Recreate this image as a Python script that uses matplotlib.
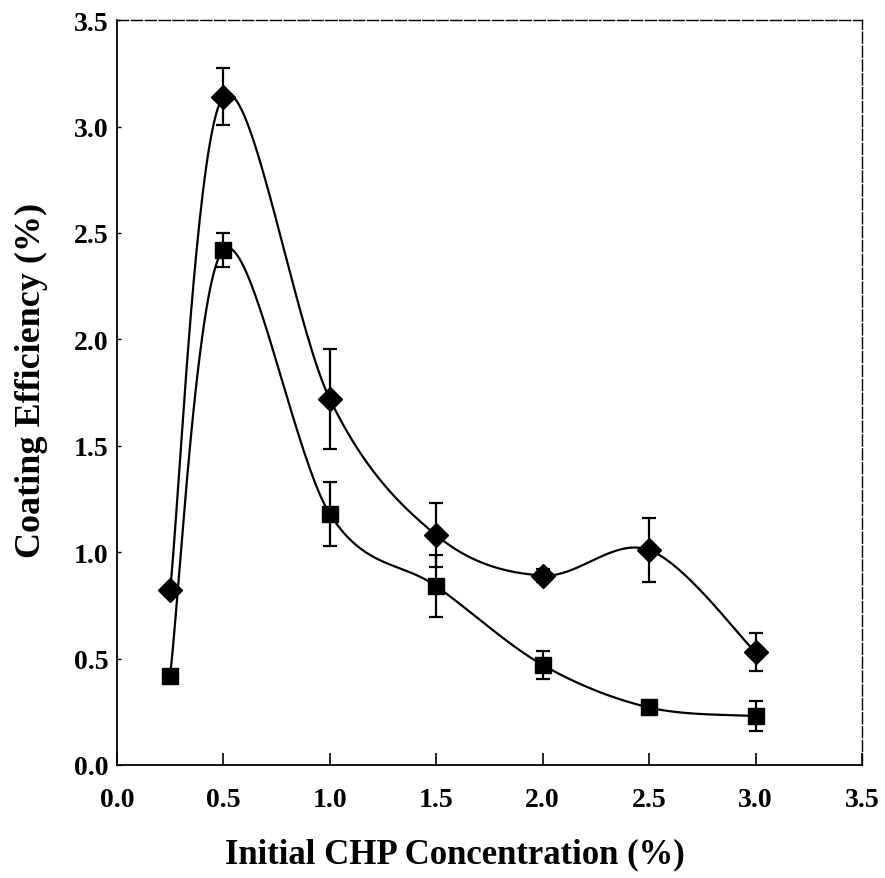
import numpy as np
import matplotlib.pyplot as plt

# initial CHP concentration (%)
conc = [0.25, 0.5, 1.0, 1.5, 2.0, 2.5, 3.0]

# upper series (diamonds)
eff_d = [0.82, 3.14, 1.72, 1.08, 0.89, 1.01, 0.53]
err_d = [0.02, 0.135, 0.235, 0.15, 0.03, 0.15, 0.09]

# lower series (squares)
eff_s = [0.42, 2.42, 1.18, 0.84, 0.47, 0.27, 0.23]
err_s = [0.02, 0.08, 0.15, 0.145, 0.065, 0.01, 0.07]


def smooth(x, y, n=40):
    # excel-style smoothed line (catmull-rom as cubic bezier)
    x = np.asarray(x, float)
    y = np.asarray(y, float)
    px = np.concatenate([[x[0]], x, [x[-1]]])
    py = np.concatenate([[y[0]], y, [y[-1]]])
    xs, ys = [], []
    t = np.linspace(0, 1, n)
    for i in range(1, len(px) - 2):
        p0 = np.array([px[i - 1], py[i - 1]])
        p1 = np.array([px[i], py[i]])
        p2 = np.array([px[i + 1], py[i + 1]])
        p3 = np.array([px[i + 2], py[i + 2]])
        c1 = p1 + (p2 - p0) / 6
        c2 = p2 - (p3 - p1) / 6
        b = ((1 - t) ** 3)[:, None] * p1 + (3 * (1 - t) ** 2 * t)[:, None] * c1 \
            + (3 * (1 - t) * t ** 2)[:, None] * c2 + (t ** 3)[:, None] * p2
        xs.extend(b[:, 0])
        ys.extend(b[:, 1])
    return np.array(xs), np.array(ys)


plt.rcParams['font.family'] = 'Liberation Serif'
plt.rcParams['font.weight'] = 'bold'

fig = plt.figure(figsize=(8.85, 8.79), dpi=100)
ax = fig.add_axes([0.132, 0.1286, 0.842, 0.8474])

for y, e, m, ms in [(eff_d, err_d, 'D', 12), (eff_s, err_s, 's', 11.5)]:
    sx, sy = smooth(conc, y)
    ax.plot(sx, sy, color='black', lw=1.6)
    ax.errorbar(conc, y, yerr=e, fmt=m, color='black', ms=ms,
                elinewidth=1.6, capsize=5, capthick=1.6)

ax.set_xlim(0, 3.5)
ax.set_ylim(0, 3.5)
ticks = [0.0, 0.5, 1.0, 1.5, 2.0, 2.5, 3.0, 3.5]
ax.set_xticks(ticks)
ax.set_yticks(ticks)
ax.set_xticklabels(['%.1f' % v for v in ticks])
ax.set_yticklabels(['%.1f' % v for v in ticks])
ax.tick_params(axis='x', direction='in', length=9, width=1.2, pad=16, labelsize=20)
ax.tick_params(axis='y', direction='in', length=3, width=1.0, pad=6, labelsize=20)

for s in ['top', 'right']:
    ax.spines[s].set_linestyle((0, (8, 2)))
    ax.spines[s].set_linewidth(1.0)
for s in ['left', 'bottom']:
    ax.spines[s].set_linewidth(1.3)

fig.text(455 / 885, 16 / 879, 'Initial CHP Concentration (%)', fontsize=25,
         fontweight='bold', ha='center', va='baseline')
ax.set_ylabel('Coating Efficiency (%)', fontsize=26, fontweight='bold')
ax.yaxis.set_label_coords(-0.093, 0.518)

fig.savefig('out.png', dpi=100)
